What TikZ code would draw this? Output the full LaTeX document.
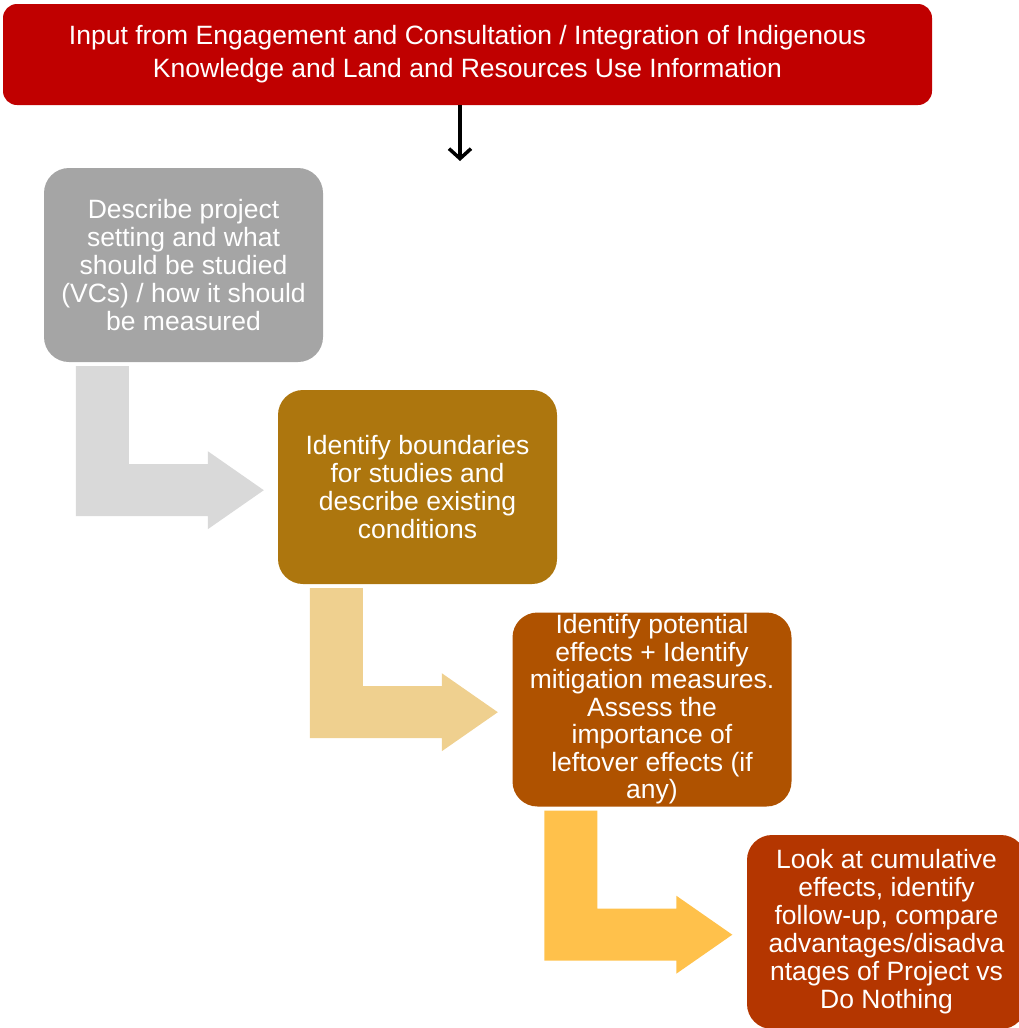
\documentclass[tikz,border=0pt]{standalone}
\usepackage{fontspec}
\setmainfont{Liberation Sans}
\usetikzlibrary{arrows.meta,calc}
\definecolor{topred}{HTML}{C00000}
\definecolor{cgray}{HTML}{A5A5A5}
\definecolor{cgold}{HTML}{AD760E}
\definecolor{corange}{HTML}{AF5200}
\definecolor{crust}{HTML}{B43600}
\definecolor{agray}{HTML}{D9D9D9}
\definecolor{asand}{HTML}{EFD08F}
\definecolor{ayellow}{HTML}{FFC14B}
\newcommand\bentarr[2]{%
  \fill[#2] ($(#1.south west)+(32,4)$) -- ($(#1.south west)+(85,4)$)
    -- ($(#1.south west)+(85,102)$) -- ($(#1.south west)+(164,102)$)
    -- ($(#1.south west)+(164,89)$) -- ($(#1.south west)+(220,128)$)
    -- ($(#1.south west)+(164,167)$) -- ($(#1.south west)+(164,154)$)
    -- ($(#1.south west)+(32,154)$) -- cycle;}
\begin{document}
\begin{tikzpicture}[x=1pt,y=-1pt,
  stepbox/.style={fill=#1, text=white, rounded corners=25pt,
    minimum width=279pt, minimum height=194pt, inner sep=0pt,
    align=center, font=\fontsize{26.5}{28}\selectfont},
  topbox/.style={fill=topred, text=white, rounded corners=14pt,
    minimum width=929pt, minimum height=101pt, inner sep=0pt,
    align=center, font=\fontsize{26.5}{33}\selectfont}]
\useasboundingbox (0,0) rectangle (1019,1028);
\node[topbox] (top) at (467.5,54.5) {Input from Engagement and Consultation / Integration of Indigenous\\Knowledge and Land and Resources Use Information};
\coordinate (ae) at (460,161);
\draw[line width=3.5pt, -{Straight Barb[length=10pt,width=22pt]}] (top.south -| ae) -- (ae);
\node[stepbox=cgray] (b1) at (183.5,265) {Describe project\\setting and what\\should be studied\\(VCs) / how it should\\be measured};
\node[stepbox=cgold] (b2) at (417.5,487) {Identify boundaries\\for studies and\\describe existing\\conditions};
\node[stepbox=corange, font=\fontsize{26.5}{27.5}\selectfont] (b3) at (652,709.5) {Identify potential\\effects + Identify\\mitigation measures.\\Assess the\\importance of\\leftover effects (if\\any)};
\node[stepbox=crust] (b4) at (886.5,932) {Look at cumulative\\effects, identify\\follow-up, compare\\advantages/disadva\\ntages of Project vs\\Do Nothing};
\bentarr{b1}{agray}
\bentarr{b2}{asand}
\bentarr{b3}{ayellow}
\end{tikzpicture}
\end{document}
